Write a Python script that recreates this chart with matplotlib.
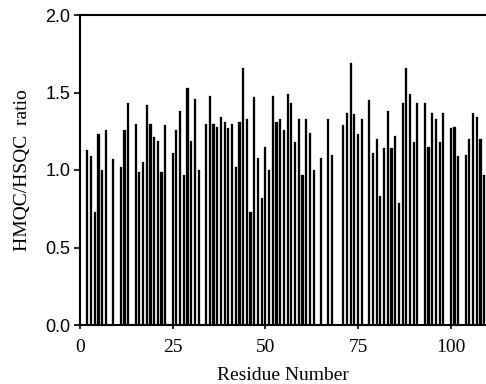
#!/usr/bin/env python3
'''
HMQC/HSQC intensity ratio per residue
'''
import matplotlib
matplotlib.use('Agg')
import matplotlib.pyplot as plt


residues = [2, 3, 4, 5, 6, 7, 9, 11, 12, 13, 15, 16, 17, 18, 19, 20, 21, 22, 23,
            25, 26, 27, 28, 29, 30, 31, 32, 34, 35, 36, 37, 38, 39, 40, 41, 42,
            43, 44, 45, 46, 47, 48, 49, 50, 51, 52, 53, 54, 55, 56, 57, 58, 59,
            60, 61, 62, 63, 65, 67, 68, 71, 72, 73, 74, 75, 76, 78, 79, 80, 81,
            82, 83, 84, 85, 86, 87, 88, 89, 90, 91, 93, 94, 95, 96, 97, 98, 100,
            101, 102, 104, 105, 106, 107, 108, 109]
ratios = [1.13, 1.09, 0.73, 1.23, 1.00, 1.26, 1.07, 1.02, 1.26, 1.43, 1.30, 0.99,
          1.05, 1.42, 1.30, 1.21, 1.19, 0.99, 1.29, 1.11, 1.26, 1.38, 0.97, 1.53,
          1.19, 1.46, 1.00, 1.30, 1.48, 1.30, 1.28, 1.34, 1.31, 1.27, 1.30, 1.02,
          1.31, 1.66, 1.33, 0.73, 1.47, 1.08, 0.82, 1.15, 1.00, 1.48, 1.31, 1.33,
          1.26, 1.49, 1.43, 1.18, 1.33, 0.97, 1.33, 1.24, 1.00, 1.08, 1.33, 1.10,
          1.29, 1.37, 1.69, 1.36, 1.23, 1.33, 1.45, 1.11, 1.20, 0.83, 1.14, 1.38,
          1.14, 1.22, 0.79, 1.43, 1.66, 1.49, 1.18, 1.43, 1.43, 1.15, 1.37, 1.33,
          1.18, 1.37, 1.27, 1.28, 1.09, 1.10, 1.20, 1.37, 1.34, 1.20, 0.97]

x_ticks = [0, 25, 50, 75, 100]
y_ticks = [0.0, 0.5, 1.0, 1.5, 2.0]

serif = 'Liberation Serif'
sans = 'Liberation Sans'

fig = plt.figure(figsize=(4.86, 3.84), dpi=100)
ax = fig.add_axes([80 / 486, 59 / 384, 406 / 486, 310 / 384])

ax.bar(residues, ratios, width=0.58, color='black', edgecolor='black',
       linewidth=0.2)

ax.set_xlim(0, 109.5)
ax.set_ylim(0, 2.0)

ax.set_xticks(x_ticks)
ax.set_xticklabels([str(v) for v in x_ticks], family=serif, fontsize=14)
ax.set_yticks(y_ticks)
ax.set_yticklabels([f'{v:.1f}' for v in y_ticks], family=sans, fontsize=13)
ax.tick_params(axis='x', direction='inout', length=6, width=1.2, pad=7)
ax.tick_params(axis='y', direction='out', length=4, width=1.2, pad=3)

for side in ['left', 'top', 'bottom']:
    ax.spines[side].set_linewidth(1.5)
ax.spines['right'].set_visible(False)

ax.set_xlabel('Residue Number', family=serif, fontsize=14, labelpad=8)
ax.set_ylabel('HMQC/HSQC  ratio', family=serif, fontsize=14, labelpad=10)

fig.savefig('out.png', dpi=100)
